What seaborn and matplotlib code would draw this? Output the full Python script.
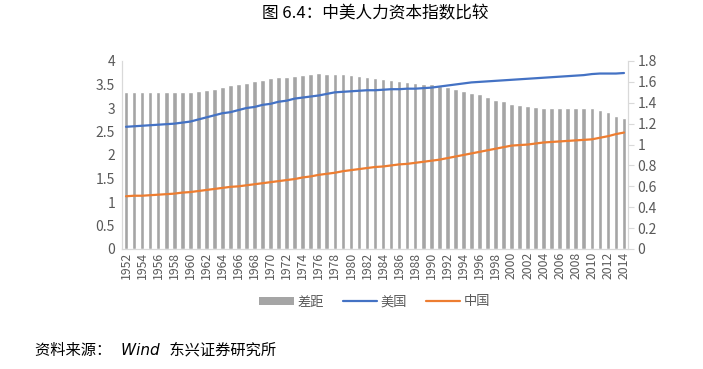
import numpy as np
import pandas as pd
import matplotlib
matplotlib.use("Agg")
import matplotlib.pyplot as plt
import seaborn as sns
from matplotlib.patches import Patch
from matplotlib.lines import Line2D

# data
years = list(range(1952, 2015))
gap = [3.34, 3.34, 3.34, 3.34, 3.34, 3.34, 3.35, 3.35, 3.35, 3.37,
       3.39, 3.41, 3.44, 3.48, 3.51, 3.54, 3.57, 3.60, 3.63, 3.65,
       3.67, 3.69, 3.71, 3.73, 3.74, 3.73, 3.73, 3.72, 3.71, 3.68,
       3.66, 3.64, 3.62, 3.59, 3.57, 3.56, 3.54, 3.52, 3.51, 3.46,
       3.44, 3.40, 3.36, 3.32, 3.29, 3.23, 3.18, 3.14, 3.09, 3.06,
       3.04, 3.03, 3.01, 2.99, 3.00, 3.00, 3.01, 3.01, 3.01, 2.96,
       2.91, 2.84, 2.79]
usa = [1.17, 1.175, 1.18, 1.185, 1.19, 1.195, 1.20, 1.21, 1.22, 1.24,
       1.26, 1.28, 1.30, 1.31, 1.33, 1.35, 1.36, 1.38, 1.39, 1.41,
       1.42, 1.44, 1.45, 1.46, 1.47, 1.485, 1.50, 1.505, 1.51, 1.515,
       1.52, 1.52, 1.525, 1.53, 1.53, 1.535, 1.535, 1.54, 1.545, 1.555,
       1.565, 1.575, 1.585, 1.595, 1.60, 1.605, 1.61, 1.615, 1.62, 1.625,
       1.63, 1.635, 1.64, 1.645, 1.65, 1.655, 1.66, 1.665, 1.675, 1.68,
       1.68, 1.68, 1.685]
china = [0.505, 0.51, 0.51, 0.515, 0.52, 0.525, 0.53, 0.54, 0.545, 0.555,
         0.565, 0.575, 0.585, 0.595, 0.60, 0.61, 0.62, 0.63, 0.64, 0.65,
         0.66, 0.67, 0.685, 0.695, 0.71, 0.72, 0.73, 0.745, 0.755, 0.765,
         0.775, 0.785, 0.79, 0.80, 0.81, 0.815, 0.825, 0.835, 0.845, 0.855,
         0.87, 0.885, 0.90, 0.915, 0.93, 0.945, 0.96, 0.975, 0.99, 0.995,
         1.00, 1.01, 1.02, 1.025, 1.03, 1.035, 1.04, 1.045, 1.05, 1.065,
         1.08, 1.10, 1.115]
series_names = ["差距", "美国", "中国"]

sns.set_style("white")
plt.rcParams['font.family'] = ['Noto Sans CJK SC', 'DejaVu Sans']

BAR = "#a5a5a5"
US_C = "#4472c4"
CN_C = "#ed7d31"
TXT = "#595959"
SPINE = "#d9d9d9"

df = pd.DataFrame({"year": [str(y) for y in years], "gap": gap,
                   "idx": np.arange(len(years)), "usa": usa, "china": china})

fig = plt.figure(figsize=(7.03, 3.69), dpi=100)
ax = fig.add_axes([122/703, 1-249/369, (628-122)/703, (249-61)/369])

sns.barplot(data=df, x="year", y="gap", color=BAR, saturation=1, width=0.58, ax=ax)
ax.set_xlim(-0.5, len(years) - 0.5)
ax.set_ylim(0, 4)
ax.set_yticks(np.arange(0, 4.01, 0.5))
ax.set_yticklabels([f"{v:g}" for v in np.arange(0, 4.01, 0.5)])
ax.set_xticks(np.arange(0, len(years), 2))
ax.set_xticklabels(df["year"][::2], rotation=90)
ax.set_xlabel("")
ax.set_ylabel("")
ax.tick_params(axis="y", length=0, labelsize=10, labelcolor=TXT, pad=5)
ax.tick_params(axis="x", length=0, labelsize=8.8, labelcolor=TXT, pad=2)

ax2 = ax.twinx()
sns.lineplot(data=df, x="idx", y="usa", color=US_C, linewidth=1.6, ax=ax2)
sns.lineplot(data=df, x="idx", y="china", color=CN_C, linewidth=1.6, ax=ax2)
ax2.set_xlim(-0.5, len(years) - 0.5)
ax2.set_ylim(0, 1.8)
rt = np.round(np.arange(0, 1.81, 0.2), 1)
ax2.set_yticks(rt)
ax2.set_yticklabels([f"{v:g}" for v in rt])
ax2.set_ylabel("")
ax2.tick_params(axis="y", length=4, color=SPINE, labelsize=10, labelcolor=TXT, pad=3)

for a in (ax, ax2):
    a.spines["top"].set_visible(False)
    for s in ("left", "right", "bottom"):
        a.spines[s].set_color(SPINE)
        a.spines[s].set_linewidth(0.8)

handles = [Patch(facecolor=BAR, edgecolor="none"),
           Line2D([], [], color=US_C, linewidth=1.6),
           Line2D([], [], color=CN_C, linewidth=1.6)]
fig.legend(handles, series_names, loc="center", bbox_to_anchor=(375/703, 1-302/369),
           ncol=3, frameon=False, fontsize=9.5, handlelength=2.6, handleheight=0.6,
           columnspacing=1.4, handletextpad=0.3, labelcolor=TXT)

fig.text(375/703, 1-14/369, "图 6.4：中美人力资本指数比较", ha="center", va="center",
         fontsize=12, color="black")
fig.text(35/703, 1-350/369, "资料来源：  Wind  东兴证券研究所", ha="left", va="center",
         fontsize=11, style="italic", color="black",
         family=['DejaVu Sans', 'Noto Sans CJK SC'])

fig.savefig("out.png", dpi=100)
